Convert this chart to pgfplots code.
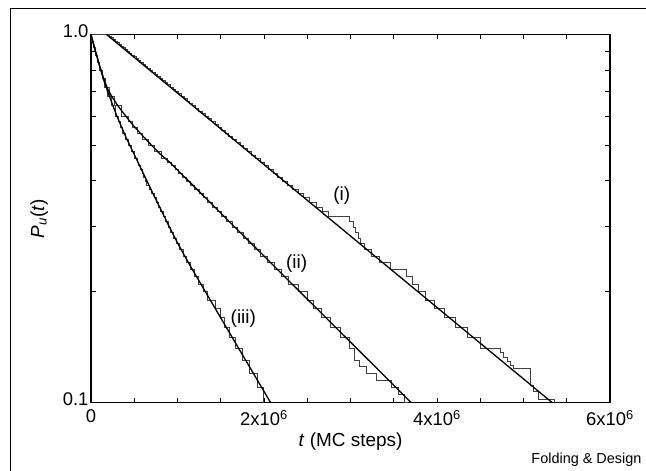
\documentclass[border=0pt]{standalone}
\usepackage{pgfplots}
\pgfplotsset{compat=1.18}
\usepackage{fontspec}
\setmainfont{Liberation Sans}

\begin{document}
\begin{tikzpicture}
\path[use as bounding box] (0bp,0bp) rectangle (646bp,471bp);
\draw[line width=1bp] (10.5bp,0bp) -- (10.5bp,462.5bp) -- (646bp,462.5bp);
\begin{axis}[
    at={(91bp,68.5bp)}, anchor=south west,
    width=519bp, height=368bp, scale only axis,
    xmin=0, xmax=6,
    ymode=log, ymin=0.1, ymax=1,
    xtick={0,2,4,6},
    xticklabels={0,2x10\textsuperscript{6},4x10\textsuperscript{6},6x10\textsuperscript{6}},
    minor xtick={0.5,1,1.5,2.5,3,3.5,4.5,5,5.5},
    ytick={0.1,1}, yticklabels={0.1,1.0},
    minor ytick={0.2,0.3,0.4,0.5,0.6,0.7,0.8,0.9},
    tick align=inside,
    major tick length=5bp, minor tick length=5bp,
    tick style={black, line width=1bp},
    axis line style={line width=1.3bp},
    ticklabel style={font=\fontsize{18.5}{18.5}\selectfont},
    xticklabel style={yshift=-4bp},
    yticklabel style={xshift=1bp, yshift=3bp},
    label style={font=\fontsize{19}{19}\selectfont},
    xlabel={\textit{t} (MC steps)},
    ylabel={\textit{P}\textsubscript{\textit{u}}(\textit{t})},
    xlabel style={yshift=0bp},
    ylabel style={yshift=8bp},
]
% step curves (survival data)
\addplot[const plot, black!75, line width=0.8bp] coordinates {
(0,1.00)(0.21,0.99)(0.234,0.98)(0.256,0.97)(0.279,0.96)(0.303,0.95)(0.326,0.94)
(0.350,0.93)(0.374,0.92)(0.398,0.91)(0.422,0.90)(0.447,0.89)(0.472,0.88)(0.498,0.87)
(0.523,0.86)(0.549,0.85)(0.575,0.84)(0.602,0.83)(0.629,0.82)(0.656,0.81)(0.683,0.80)
(0.711,0.79)(0.739,0.78)(0.768,0.77)(0.797,0.76)(0.826,0.75)(0.856,0.74)(0.886,0.73)
(0.917,0.72)(0.947,0.71)(0.979,0.70)(1.011,0.69)(1.043,0.68)(1.076,0.67)(1.109,0.66)
(1.143,0.65)(1.177,0.64)(1.212,0.63)(1.247,0.62)(1.283,0.61)(1.320,0.60)(1.357,0.59)
(1.395,0.58)(1.433,0.57)(1.472,0.56)(1.512,0.55)(1.552,0.54)(1.594,0.53)(1.636,0.52)
(1.679,0.51)(1.722,0.50)(1.767,0.49)(1.812,0.48)(1.859,0.47)(1.906,0.46)(1.955,0.45)
(2.004,0.44)(2.055,0.43)(2.107,0.42)(2.160,0.41)(2.214,0.40)(2.270,0.39)(2.327,0.38)
(2.40,0.37)(2.46,0.36)(2.53,0.35)(2.60,0.34)(2.68,0.33)(2.75,0.32)(2.99,0.31)
(3.03,0.30)(3.06,0.29)(3.09,0.28)(3.12,0.27)(3.16,0.26)(3.245,0.25)(3.334,0.24)
(3.46,0.23)(3.65,0.22)(3.72,0.21)(3.79,0.20)(3.87,0.19)(3.97,0.18)(4.084,0.17)
(4.215,0.16)(4.355,0.15)(4.50,0.14)(4.73,0.137)(4.77,0.133)(4.81,0.129)(4.85,0.126)
(4.88,0.124)(5.075,0.111)(5.12,0.107)(5.17,0.102)(5.36,0.098)
};
\addplot[const plot, black!75, line width=0.8bp] coordinates {
(0,1.0)(0.010,0.96)(0.030,0.92)(0.051,0.88)(0.076,0.84)(0.102,0.80)(0.131,0.76)
(0.165,0.72)(0.207,0.68)(0.273,0.64)(0.355,0.60)(0.427,0.58)(0.479,0.56)(0.537,0.54)
(0.599,0.52)(0.666,0.50)(0.737,0.48)(0.815,0.46)(0.885,0.45)(0.929,0.44)(0.972,0.43)
(1.015,0.42)(1.060,0.41)(1.105,0.40)(1.151,0.39)(1.198,0.38)(1.248,0.37)(1.298,0.36)
(1.349,0.35)(1.403,0.34)(1.457,0.33)(1.513,0.32)(1.571,0.31)(1.631,0.30)(1.693,0.29)
(1.757,0.28)(1.824,0.27)(1.892,0.26)(1.964,0.25)(2.038,0.24)(2.115,0.23)(2.196,0.22)
(2.281,0.21)(2.40,0.20)(2.50,0.19)(2.57,0.18)(2.662,0.17)(2.771,0.16)(2.887,0.15)
(2.99,0.14)(3.05,0.13)(3.10,0.125)(3.18,0.12)(3.30,0.115)(3.47,0.11)(3.55,0.105)
(3.62,0.10)(3.66,0.098)
};
\addplot[const plot, black!75, line width=0.8bp] coordinates {
(0,1.0)(0.010,0.96)(0.031,0.92)(0.052,0.88)(0.076,0.84)(0.100,0.80)(0.127,0.76)
(0.157,0.72)(0.193,0.68)(0.233,0.64)(0.277,0.60)(0.313,0.58)(0.340,0.56)(0.368,0.54)
(0.398,0.52)(0.431,0.50)(0.467,0.48)(0.504,0.46)(0.533,0.45)(0.552,0.44)(0.572,0.43)
(0.593,0.42)(0.610,0.41)(0.625,0.40)(0.645,0.39)(0.670,0.38)(0.700,0.37)(0.729,0.36)
(0.754,0.35)(0.780,0.34)(0.806,0.33)(0.834,0.32)(0.862,0.31)(0.891,0.30)(0.922,0.29)
(0.955,0.28)(0.988,0.27)(1.025,0.26)(1.064,0.25)(1.104,0.24)(1.149,0.23)(1.195,0.22)
(1.244,0.21)(1.296,0.20)(1.350,0.19)(1.44,0.18)(1.50,0.17)(1.545,0.16)(1.599,0.15)
(1.672,0.14)(1.749,0.13)(1.833,0.12)(1.923,0.11)(1.99,0.098)
};
% fitted curves
\addplot[black, line width=1.3bp] coordinates {(0.18,1.0)(5.33,0.1)};
\addplot[black, line width=1.3bp] coordinates {
(0,1.0)(0.05,0.9016)(0.1,0.8222)(0.15,0.7551)(0.2,0.7047)(0.25,0.6730)(0.3,0.6457)
(0.35,0.6223)(0.4,0.6012)(0.45,0.5808)(0.5,0.5623)(0.6,0.5297)(0.7,0.5000)(0.8,0.4732)
(0.9,0.4519)(1.0,0.4285)(1.5,0.3273)(2.0,0.2500)(2.5,0.1910)(3.0,0.1459)(3.5,0.1114)
(3.7,0.1000)
};
\addplot[black, line width=1.3bp] coordinates {
(0,1.0)(0.05,0.9036)(0.1,0.8203)(0.15,0.7482)(0.2,0.6918)(0.3,0.5998)(0.4,0.5284)
(0.5,0.4721)(0.6,0.4217)(0.7,0.3767)(0.8,0.3373)(0.9,0.3020)(1.0,0.2716)(1.1,0.2460)
(1.2,0.2239)(1.5,0.1698)(2.0,0.1072)(2.075,0.1000)
};
\node[font=\fontsize{19}{19}\selectfont] at (axis cs:2.898,0.366) {(i)};
\node[font=\fontsize{19}{19}\selectfont] at (axis cs:2.378,0.239) {(ii)};
\node[font=\fontsize{19}{19}\selectfont] at (axis cs:1.761,0.169) {(iii)};
\end{axis}
\node[anchor=east, font=\fontsize{14.5}{14.5}\selectfont] at (645bp,11bp) {Folding \& Design};
\end{tikzpicture}
\end{document}
